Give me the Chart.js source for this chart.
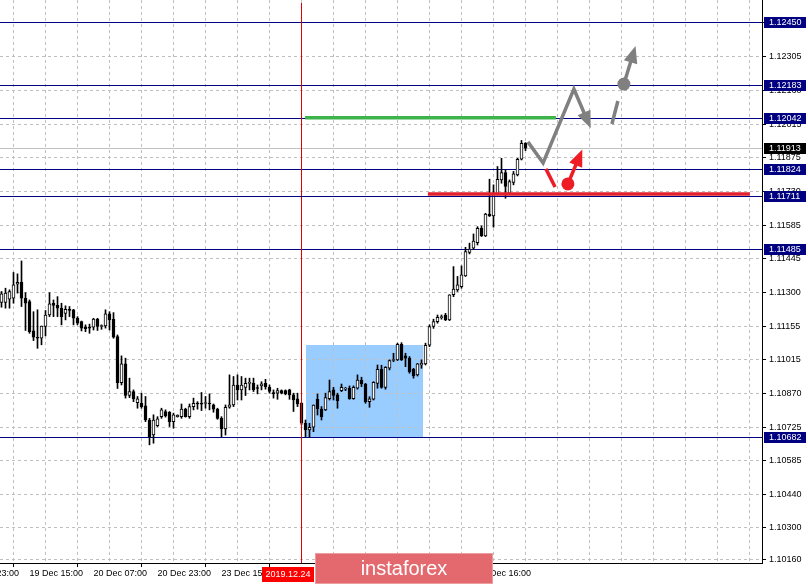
<!DOCTYPE html>
<html><head><meta charset="utf-8">
<script src="https://cdn.jsdelivr.net/npm/chart.js@4/dist/chart.umd.min.js"></script>
<style>html,body{margin:0;padding:0;background:#fff;}#wrap{width:808px;height:584px;position:relative;}canvas{display:block;}</style>
</head><body><div id="wrap"><canvas id="c" width="808" height="584"></canvas></div>
<script>
// ---- candle data (EURUSD H1), bar index 0..131 ----
const opens = [
1.11256,1.11256,1.11270,1.11274,1.11334,1.11342,1.11274,1.11260,1.11135,1.11108,
1.11104,1.11154,1.11203,1.11253,1.11244,1.11232,1.11210,1.11227,1.11225,1.11189,
1.11175,1.11151,1.11149,1.11151,1.11186,1.11154,1.11156,1.11208,1.11185,1.11111,
1.10915,1.10995,1.10860,1.10877,1.10830,1.10827,1.10816,1.10756,1.10692,1.10732,
1.10770,1.10792,1.10789,1.10749,1.10770,1.10770,1.10802,1.10770,1.10813,1.10827,
1.10824,1.10826,1.10827,1.10820,1.10802,1.10763,1.10718,1.10810,1.10820,1.10905,
1.10884,1.10895,1.10912,1.10912,1.10891,1.10901,1.10912,1.10895,1.10873,1.10870,
1.10881,1.10881,1.10884,1.10863,1.10846,1.10827,1.10742,1.10714,1.10725,1.10844,
1.10802,1.10799,1.10847,1.10884,1.10863,1.10881,1.10887,1.10891,1.10847,1.10891,
1.10926,1.10909,1.10834,1.10844,1.10912,1.10972,1.10895,1.10976,1.11009,1.11012,
1.11078,1.11029,1.11019,1.10972,1.10948,1.10990,1.10995,1.11074,1.11154,1.11175,
1.11192,1.11203,1.11182,1.11289,1.11310,1.11324,1.11369,1.11469,1.11487,1.11511,
1.11572,1.11540,1.11633,1.11625,1.11719,1.11778,1.11809,1.11721,1.11767,1.11799,
1.11866,1.11934];
const highs = [
1.11303,1.11317,1.11310,1.11384,1.11378,1.11433,1.11298,1.11267,1.11217,1.11225,
1.11156,1.11222,1.11298,1.11267,1.11281,1.11253,1.11242,1.11239,1.11227,1.11196,
1.11177,1.11161,1.11164,1.11189,1.11189,1.11161,1.11225,1.11217,1.11213,1.11118,
1.11029,1.11019,1.10934,1.10884,1.10856,1.10870,1.10856,1.10763,1.10778,1.10770,
1.10806,1.10799,1.10792,1.10785,1.10778,1.10824,1.10806,1.10824,1.10849,1.10834,
1.10873,1.10856,1.10867,1.10824,1.10806,1.10770,1.10820,1.10948,1.10941,1.10948,
1.10941,1.10934,1.10934,1.10934,1.10905,1.10919,1.10929,1.10905,1.10884,1.10891,
1.10884,1.10884,1.10887,1.10870,1.10870,1.10830,1.10756,1.10742,1.10820,1.10867,
1.10813,1.10870,1.10926,1.10895,1.10870,1.10909,1.10895,1.10901,1.10901,1.10948,
1.10938,1.10912,1.10855,1.10919,1.10990,1.10989,1.10983,1.11012,1.11040,1.11083,
1.11085,1.11040,1.11026,1.10976,1.10997,1.11012,1.11083,1.11161,1.11185,1.11203,
1.11203,1.11210,1.11289,1.11409,1.11367,1.11412,1.11491,1.11509,1.11548,1.11579,
1.11582,1.11636,1.11781,1.11757,1.11835,1.11870,1.11821,1.11778,1.11814,1.11870,
1.11946,1.11937];
const lows = [
1.11236,1.11232,1.11232,1.11253,1.11296,1.11239,1.11137,1.11125,1.11094,1.11061,
1.11076,1.11114,1.11196,1.11196,1.11196,1.11161,1.11182,1.11196,1.11161,1.11161,
1.11135,1.11132,1.11125,1.11139,1.11137,1.11142,1.11147,1.11139,1.11104,1.10890,
1.10905,1.10849,1.10851,1.10834,1.10806,1.10806,1.10749,1.10650,1.10657,1.10728,
1.10763,1.10768,1.10728,1.10721,1.10768,1.10763,1.10768,1.10763,1.10799,1.10802,
1.10796,1.10806,1.10799,1.10789,1.10759,1.10685,1.10692,1.10806,1.10813,1.10841,
1.10841,1.10860,1.10884,1.10877,1.10867,1.10884,1.10887,1.10870,1.10849,1.10844,
1.10867,1.10863,1.10844,1.10792,1.10813,1.10735,1.10685,1.10682,1.10706,1.10777,
1.10756,1.10796,1.10841,1.10841,1.10806,1.10877,1.10881,1.10844,1.10844,1.10887,
1.10898,1.10827,1.10810,1.10841,1.10891,1.10891,1.10887,1.10969,1.11004,1.11009,
1.11009,1.10983,1.10955,1.10934,1.10943,1.10976,1.10990,1.11068,1.11146,1.11168,
1.11185,1.11179,1.11179,1.11281,1.11303,1.11317,1.11367,1.11463,1.11483,1.11501,
1.11537,1.11537,1.11622,1.11577,1.11714,1.11764,1.11700,1.11719,1.11757,1.11795,
1.11863,1.11903];
const closes = [
1.11293,1.11296,1.11303,1.11331,1.11342,1.11274,1.11253,1.11132,1.11108,1.11104,
1.11156,1.11203,1.11250,1.11244,1.11232,1.11196,1.11227,1.11222,1.11189,1.11168,
1.11147,1.11145,1.11147,1.11186,1.11154,1.11156,1.11208,1.11182,1.11108,1.10915,
1.10995,1.10860,1.10877,1.10846,1.10846,1.10813,1.10756,1.10685,1.10756,1.10761,
1.10799,1.10773,1.10749,1.10778,1.10776,1.10802,1.10770,1.10813,1.10827,1.10824,
1.10823,1.10827,1.10824,1.10802,1.10763,1.10718,1.10810,1.10820,1.10905,1.10884,
1.10905,1.10912,1.10915,1.10884,1.10890,1.10910,1.10898,1.10877,1.10867,1.10881,
1.10870,1.10867,1.10863,1.10841,1.10824,1.10742,1.10714,1.10725,1.10819,1.10804,
1.10770,1.10851,1.10877,1.10860,1.10838,1.10895,1.10888,1.10847,1.10895,1.10926,
1.10909,1.10834,1.10846,1.10916,1.10972,1.10895,1.10980,1.11009,1.11012,1.11078,
1.11012,1.11019,1.10962,1.10943,1.10995,1.10997,1.11074,1.11154,1.11175,1.11193,
1.11193,1.11182,1.11289,1.11313,1.11331,1.11374,1.11473,1.11483,1.11518,1.11572,
1.11540,1.11633,1.11625,1.11721,1.11781,1.11809,1.11750,1.11771,1.11804,1.11866,
1.11934,1.11913];

// ---- axes ----
const yTickValues = [1.12450,1.12305,1.12160,1.12015,1.11875,1.11730,1.11585,1.11445,1.11300,
                     1.11155,1.11015,1.10870,1.10725,1.10585,1.10440,1.10300,1.10160];
const xLabelBars  = [-9,7,23,39,55,71,87,103,119];
const xLabelTexts = ['18 Dec 23:00','19 Dec 15:00','20 Dec 07:00','20 Dec 23:00','23 Dec 15:00',
                     '24 Dec 07:00','24 Dec 23:00','25 Dec 15:00','26 Dec 16:00'];

// ---- horizontal levels / annotations (bar index, price) ----
const levelValues = [1.12450,1.12183,1.12042,1.11824,1.11711,1.11485,1.10682];
const currentPrice = 1.11913;
const zoneBars = [76.1, 105.4];
const zonePrices = [1.10682, 1.11075];
const greenLine = {from:75.9, to:138.6, price:1.12043};
const redLine = {from:106.6, to:187.1, price:1.11718};
const grayPath = [[131.6,1.11940],[135.4,1.11850],[143.1,1.12165],[147.3,1.11998]];
const grayDash = [[152.6,1.12016],[154.1,1.12114]];
const grayDot = [155.6,1.12186], grayTip = [158.5,1.12348];
const redSeg = [[136.1,1.11825],[138.4,1.11748]];
const redDot = [141.6,1.11761], redTip = [145.2,1.11908];
const markerBar = 75, markerText = '2019.12.24';

Chart.defaults.font.family = "'Liberation Sans', Arial, sans-serif";

function arrowHead(ctx, fx, fy, tx, ty, len, half){
  const a = Math.atan2(ty-fy, tx-fx), c=Math.cos(a), s=Math.sin(a);
  ctx.beginPath();
  ctx.moveTo(tx,ty);
  ctx.lineTo(tx-len*c+half*s, ty-len*s-half*c);
  ctx.lineTo(tx-len*c-half*s, ty-len*s+half*c);
  ctx.closePath(); ctx.fill();
}

const overlay = {
  id:'overlay',
  beforeDraw(chart){
    const {ctx, scales:{x,y}} = chart;
    const x0=x.getPixelForValue(zoneBars[0]), x1=x.getPixelForValue(zoneBars[1]);
    const y0=y.getPixelForValue(zonePrices[1]), y1=y.getPixelForValue(zonePrices[0]);
    ctx.save(); ctx.fillStyle='#99ccff'; ctx.fillRect(Math.round(x0),Math.round(y0),Math.round(x1-x0),Math.round(y1-y0)); ctx.restore();
  },
  beforeDatasetsDraw(chart){
    const {ctx, chartArea:a, scales:{y}} = chart;
    ctx.save();
    ctx.lineWidth=1;
    ctx.strokeStyle='#c0c0c0';
    let py=Math.round(y.getPixelForValue(currentPrice))+0.5;
    ctx.beginPath(); ctx.moveTo(a.left,py); ctx.lineTo(a.right,py); ctx.stroke();
    ctx.strokeStyle='#000080';
    levelValues.forEach(v=>{
      const p=Math.round(y.getPixelForValue(v))+0.5;
      ctx.beginPath(); ctx.moveTo(a.left,p); ctx.lineTo(a.right,p); ctx.stroke();
    });
    ctx.restore();
  },
  afterDatasetsDraw(chart){
    const {ctx, chartArea:a, scales:{x,y}} = chart;
    const P=(pt)=>[x.getPixelForValue(pt[0]), y.getPixelForValue(pt[1])];
    ctx.save();
    // vertical marker
    ctx.fillStyle='#e00000'; ctx.fillRect(Math.floor(x.getPixelForValue(markerBar)),a.top+3,1,a.bottom-a.top-3);
    // red support line
    ctx.lineCap='butt';
    ctx.strokeStyle='#e3202e'; ctx.lineWidth=3.5;
    let ry=y.getPixelForValue(redLine.price);
    ctx.beginPath(); ctx.moveTo(x.getPixelForValue(redLine.from),ry); ctx.lineTo(x.getPixelForValue(redLine.to),ry); ctx.stroke();
    ctx.strokeStyle='#000080'; ctx.lineWidth=1;
    let ny=Math.round(y.getPixelForValue(1.11711))+0.5;
    ctx.beginPath(); ctx.moveTo(a.left,ny); ctx.lineTo(a.right,ny); ctx.stroke();
    // green line
    ctx.strokeStyle='#3cb44b'; ctx.lineWidth=3.5;
    let gy=y.getPixelForValue(greenLine.price);
    ctx.beginPath(); ctx.moveTo(x.getPixelForValue(greenLine.from),gy); ctx.lineTo(x.getPixelForValue(greenLine.to),gy); ctx.stroke();
    // gray path with arrow
    ctx.strokeStyle='#808080'; ctx.fillStyle='#808080'; ctx.lineWidth=3.5; ctx.lineJoin='miter';
    const gp=grayPath.map(P);
    const n=gp.length, last=gp[n-1], prev=gp[n-2];
    const ang=Math.atan2(last[1]-prev[1], last[0]-prev[0]);
    ctx.beginPath(); ctx.moveTo(gp[0][0],gp[0][1]);
    for(let i=1;i<n-1;i++) ctx.lineTo(gp[i][0],gp[i][1]);
    ctx.lineTo(last[0]-12*Math.cos(ang), last[1]-12*Math.sin(ang)); ctx.stroke();
    arrowHead(ctx, prev[0],prev[1], last[0],last[1], 17, 7);
    const gd=grayDash.map(P);
    ctx.beginPath(); ctx.moveTo(gd[0][0],gd[0][1]); ctx.lineTo(gd[1][0],gd[1][1]); ctx.stroke();
    const gdot=P(grayDot), gtip=P(grayTip);
    const ga=Math.atan2(gtip[1]-gdot[1], gtip[0]-gdot[0]);
    ctx.beginPath(); ctx.moveTo(gdot[0],gdot[1]); ctx.lineTo(gtip[0]-12*Math.cos(ga), gtip[1]-12*Math.sin(ga)); ctx.stroke();
    arrowHead(ctx, gdot[0],gdot[1], gtip[0],gtip[1], 17, 7);
    ctx.beginPath(); ctx.arc(gdot[0],gdot[1],6.5,0,Math.PI*2); ctx.fill();
    // red
    ctx.strokeStyle='#ee1c25'; ctx.fillStyle='#ee1c25'; ctx.lineWidth=3.5;
    const rs=redSeg.map(P);
    ctx.beginPath(); ctx.moveTo(rs[0][0],rs[0][1]); ctx.lineTo(rs[1][0],rs[1][1]); ctx.stroke();
    const rdot=P(redDot), rtip=P(redTip);
    const ra=Math.atan2(rtip[1]-rdot[1], rtip[0]-rdot[0]);
    ctx.beginPath(); ctx.moveTo(rdot[0],rdot[1]); ctx.lineTo(rtip[0]-12*Math.cos(ra), rtip[1]-12*Math.sin(ra)); ctx.stroke();
    arrowHead(ctx, rdot[0],rdot[1], rtip[0],rtip[1], 17, 7);
    ctx.beginPath(); ctx.arc(rdot[0],rdot[1],6.5,0,Math.PI*2); ctx.fill();
    ctx.restore();
  },
  afterDraw(chart){
    const {ctx, chartArea:a, scales:{x,y}} = chart;
    ctx.save();
    ctx.font="9px 'Liberation Sans', Arial, sans-serif";
    ctx.textBaseline='middle'; ctx.textAlign='left';
    const box=(v,bg)=>{
      const p=Math.round(y.getPixelForValue(v));
      ctx.fillStyle=bg; ctx.fillRect(a.right+2,p-5,42,11);
      ctx.fillStyle='#fff'; ctx.fillText(v.toFixed(5), a.right+7, p+0.5);
    };
    levelValues.forEach(v=>box(v,'#000080'));
    box(currentPrice,'#000000');
    // date marker box
    const mx=x.getPixelForValue(markerBar);
    ctx.fillStyle='#ff0000'; ctx.fillRect(Math.round(mx-39.5), a.bottom+4, 52, 15);
    ctx.fillStyle='#fff'; ctx.textAlign='center'; ctx.fillText(markerText, Math.round(mx-13.5), a.bottom+12);
    // watermark banner
    ctx.fillStyle='#e3696e'; ctx.fillRect(315,553,178,31);
    ctx.strokeStyle='rgba(255,255,255,0.35)'; ctx.lineWidth=1; ctx.strokeRect(315.5,553.5,177,30);
    ctx.fillStyle='#ffffff'; ctx.font="20px 'Liberation Sans', Arial, sans-serif";
    ctx.textAlign='center'; ctx.textBaseline='alphabetic';
    ctx.fillText('instaforex', 404, 575);
    ctx.restore();
  }
};

new Chart(document.getElementById('c'), {
  type:'bar',
  data:{ datasets:[
    { label:'bodies', order:0, grouped:false, barThickness:3, minBarLength:1, borderSkipped:false,
      borderWidth:1, borderColor:'#000',
      backgroundColor: c => closes[c.dataIndex] >= opens[c.dataIndex] ? '#ffffff' : '#000000',
      data: opens.map((o,i)=>({x:i, y:[Math.min(o,closes[i]), Math.max(o,closes[i])]})) },
    { label:'wicks', order:1, grouped:false, barThickness:1, borderWidth:0, backgroundColor:'#000',
      data: lows.map((l,i)=>({x:i, y:[l, highs[i]]})) }
  ]},
  options:{
    responsive:false, animation:false, devicePixelRatio:1, events:[],
    layout:{padding:0},
    plugins:{legend:{display:false}, tooltip:{enabled:false}},
    scales:{
      x:{ type:'linear', min:-0.375, max:190.125, offset:false,
        afterBuildTicks(s){ const t=[]; for(let b=-9;b<=183;b+=8) t.push({value:b}); s.ticks=t; },
        ticks:{ autoSkip:false, maxRotation:0, minRotation:0, align:'start', padding:1, color:'#000', font:{size:9},
          callback(v){ const i=xLabelBars.indexOf(v); return i>=0 ? xLabelTexts[i] : ''; } },
        grid:{ color:'#c0c0c0', lineWidth:1, tickLength:4, tickWidth:1,
          tickColor: c => (c.tick && xLabelBars.includes(c.tick.value)) ? '#000' : 'rgba(0,0,0,0)' },
        border:{ display:true, color:'#000', width:1, dash:[3,3] },
        afterFit(s){ s.height=21; s.paddingLeft=0; s.paddingRight=0; }
      },
      y:{ position:'right', min:1.10147, max:1.12544,
        afterBuildTicks(s){ s.ticks=yTickValues.map(v=>({value:v})); },
        ticks:{ autoSkip:false, padding:3, color:'#000', font:{size:9}, callback:v=>Number(v).toFixed(5) },
        grid:{ color:'#c0c0c0', lineWidth:1, tickLength:4, tickColor:'#000' },
        border:{ display:true, color:'#000', width:1, dash:[3,3] },
        afterFit(s){ s.width=46; s.paddingTop=0; s.paddingBottom=0; }
      }
    }
  },
  plugins:[overlay]
});
</script></body></html>
